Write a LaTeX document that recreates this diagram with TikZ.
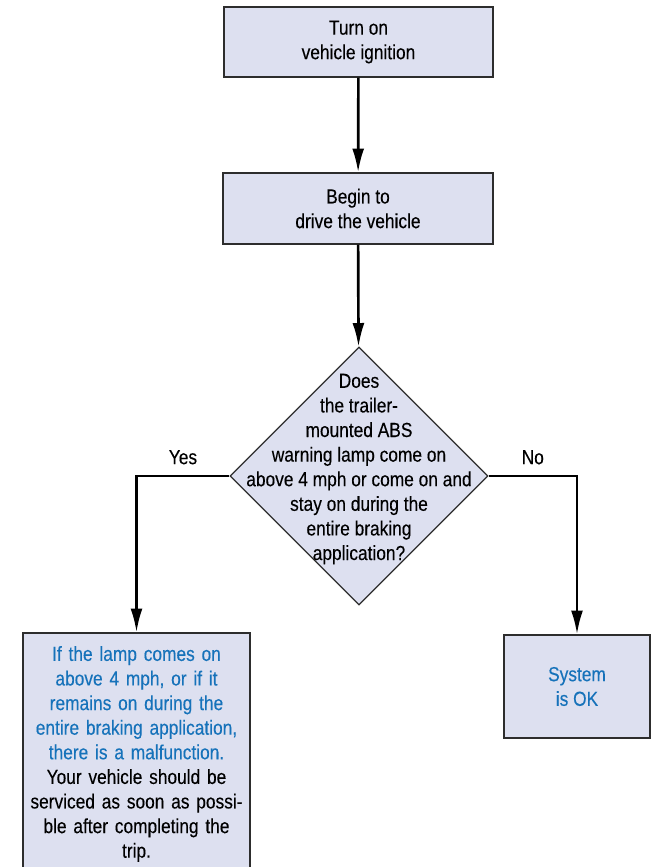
\documentclass[tikz,border=0pt]{standalone}
\usepackage{fontspec}
\setmainfont[FakeStretch=0.85,FakeBold=0.2]{Liberation Sans}
\usetikzlibrary{shapes.geometric,arrows.meta}
\definecolor{boxfill}{RGB}{221,224,240}
\definecolor{okblue}{RGB}{22,114,186}
\definecolor{rand}{RGB}{45,45,45}

\begin{document}
\begin{tikzpicture}[
		font=\fontsize{14.5}{17.5}\selectfont,
		box/.style={draw=rand,line width=0.8pt,fill=boxfill,align=center,inner sep=0pt},
		frage/.style={diamond,draw=rand,line width=0.8pt,fill=boxfill,inner sep=0pt,
			minimum width=6.45cm,minimum height=6.45cm},
		pfeil/.style={line width=1.9pt,-{Latex[length=17pt,width=8.5pt]}}
		]
		\useasboundingbox (0,0) rectangle (16.3,-21.675);
		\clip (0,0) rectangle (16.3,-21.675);
		
		%Knoten des Ablaufs
		\node[box,minimum width=6.725cm,minimum height=1.75cm] (zuendung) at (8.9625,-1.05)
			{Turn on\\vehicle ignition};
		\node[box,minimum width=6.75cm,minimum height=1.775cm] (fahren) at (8.95,-5.2125)
			{Begin to\\drive the vehicle};
		\node[frage] (lampe) at (8.975,-11.9) {};
		\node[align=center] (lampetext) at (8.975,-11.725)
			{Does\\the trailer-\\mounted ABS\\warning lamp come on\\above 4 mph or come on and\\stay on during the\\entire braking\\application?};
		\node[box,text width=5.675cm,minimum height=6.05cm] (fehler) at (3.4125,-18.85)
			{\color{okblue}If the lamp comes on\\above 4 mph, or if it\\remains on during the\\entire braking application,\\there is a malfunction.\\
			\color{black}Your vehicle should be\\serviced as soon as possi-\\ble after completing the\\trip.};
		\node[box,text=okblue,minimum width=3.65cm,minimum height=2.575cm] (ok) at (14.425,-17.1625)
			{System\\is OK};
		
		\draw[pfeil] (zuendung) -- (fahren);
		\draw[pfeil] (fahren) -- (lampe);
		\draw[pfeil] (lampe.west) -| node[pos=0.25,above=4pt] (ja) {Yes} (fehler.north);
		\draw[pfeil] (lampe.east) -| node[pos=0.25,above=4pt] (nein) {No} (ok.north);
		\end{tikzpicture}
\end{document}
